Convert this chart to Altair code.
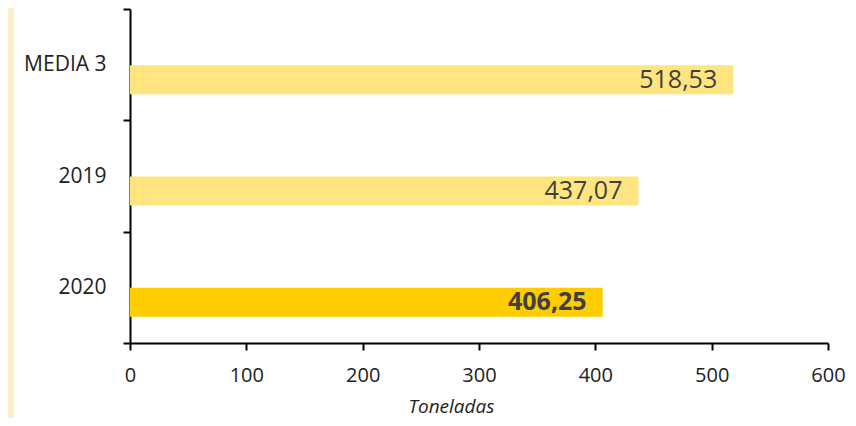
import altair as alt
import pandas as pd

categories = ["MEDIA 3", "2019", "2020"]
values = [518.53, 437.07, 406.25]
value_labels = ["518,53", "437,07", "406,25"]
bar_colors = ["#FFE57F", "#FFE57F", "#FFCC00"]
x_ticks = [0, 100, 200, 300, 400, 500, 600]

df = pd.DataFrame({"cat": categories, "val": values, "lab": value_labels})

FONT = "Open Sans"

y_enc = alt.Y(
    "cat:N",
    sort=categories,
    scale=alt.Scale(domain=categories, paddingInner=0, paddingOuter=0),
    axis=alt.Axis(
        title=None, tickBand="extent", tickSize=7, tickWidth=2, tickColor="black",
        domainColor="black", domainWidth=2, labelFont=FONT, labelFontSize=21,
        labelColor="#222222", labelPadding=17, labelAlign="right",
    ),
)
x_enc = alt.X(
    "val:Q",
    scale=alt.Scale(domain=[0, 600], nice=False),
    axis=alt.Axis(
        title="Toneladas", values=x_ticks, grid=False, tickSize=7, tickWidth=2,
        tickColor="black", domainColor="black", domainWidth=2, labelFont=FONT,
        labelFontSize=20, labelColor="#222222", labelPadding=15, labelFlush=False,
        titleFont=FONT, titleFontSize=19, titleFontStyle="italic", titleFontWeight="normal",
        titleColor="#222222", titleX=321, titleY=63, titleBaseline="middle",
        titleAnchor="start", titleAlign="center",
    ),
)

bars = alt.Chart(df).mark_bar(yOffset=15, height=29).encode(
    x=x_enc,
    y=y_enc,
    color=alt.Color("cat:N", scale=alt.Scale(domain=categories, range=bar_colors), legend=None),
)

text_normal = alt.Chart(df).transform_filter(alt.datum.cat != "2020").mark_text(
    align="right", baseline="middle", dx=-16, dy=15, font=FONT, fontSize=25, color="#404040"
).encode(x="val:Q", y=alt.Y("cat:N", sort=categories), text="lab:N")

text_bold = alt.Chart(df).transform_filter(alt.datum.cat == "2020").mark_text(
    align="right", baseline="middle", dx=-16, dy=15, font=FONT, fontSize=25,
    fontWeight="bold", color="#404040"
).encode(x="val:Q", y=alt.Y("cat:N", sort=categories), text="lab:N")

strip = alt.Chart(df).mark_rect(color="#FCEFCB").encode(
    x=alt.value(-122), x2=alt.value(-116), y=alt.value(-9), y2=alt.value(410)
)

chart = alt.layer(strip, bars, text_normal, text_bold).properties(
    width=698, height=334,
    autosize=alt.AutoSizeParams(type="none"),
    padding={"left": 122, "top": 1, "right": 20, "bottom": 75},
    background="white",
).configure_view(stroke=None)

chart.save("out.html", embed_options={"renderer": "svg", "actions": False})
